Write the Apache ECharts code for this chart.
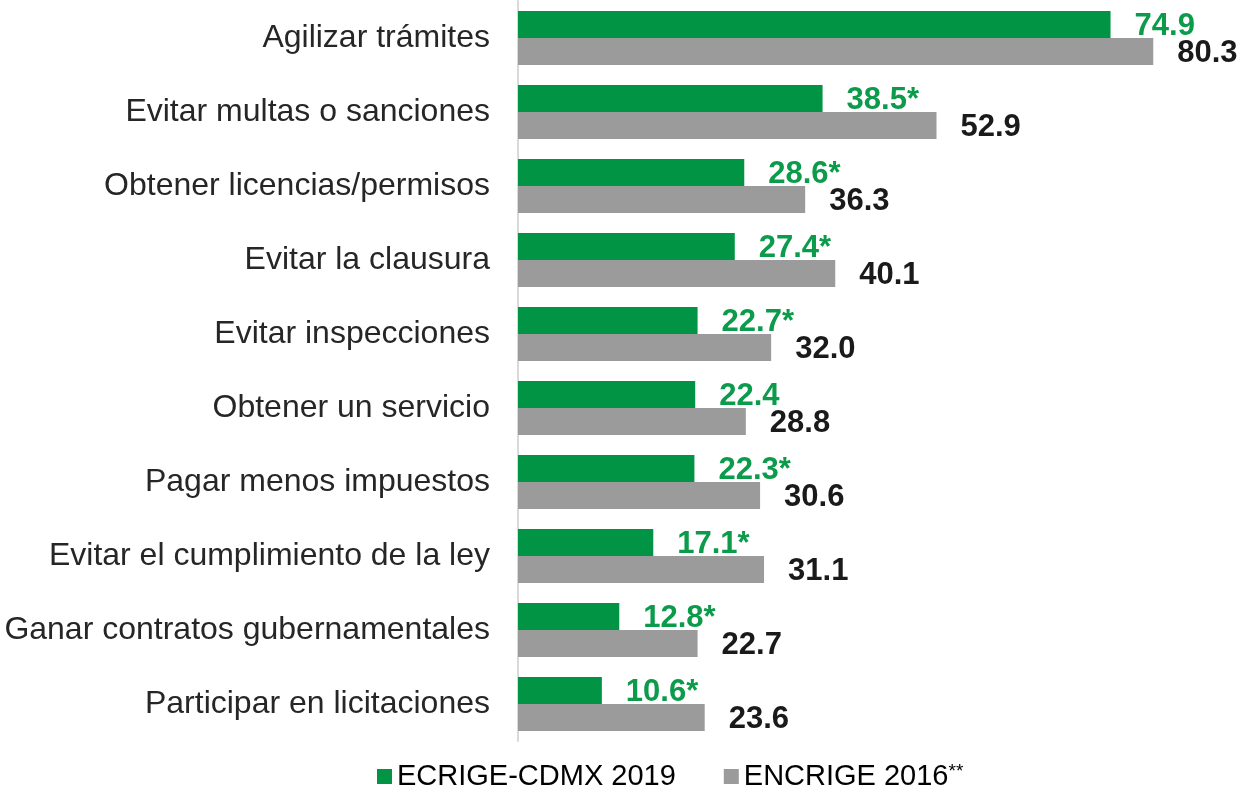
<!DOCTYPE html>
<html>
<head>
<meta charset="utf-8">
<script src="https://cdn.jsdelivr.net/npm/echarts@6/dist/echarts.min.js"></script>
<style>
  html, body { margin: 0; padding: 0; background: #ffffff; }
  #chart { width: 1238px; height: 793px; }
</style>
</head>
<body>
<div id="chart"></div>
<script>
// Categories, top to bottom
const categories = [
  'Agilizar trámites',
  'Evitar multas o sanciones',
  'Obtener licencias/permisos',
  'Evitar la clausura',
  'Evitar inspecciones',
  'Obtener un servicio',
  'Pagar menos impuestos',
  'Evitar el cumplimiento de la ley',
  'Ganar contratos gubernamentales',
  'Participar en licitaciones'
];

// Percentages per survey
const values2019 = [74.9, 38.5, 28.6, 27.4, 22.7, 22.4, 22.3, 17.1, 12.8, 10.6];
const values2016 = [80.3, 52.9, 36.3, 40.1, 32.0, 28.8, 30.6, 31.1, 22.7, 23.6];

// Statistically significant differences marked with an asterisk
const significant2019 = [false, true, true, true, true, false, true, true, true, true];

const seriesNames = ['ECRIGE-CDMX 2019', 'ENCRIGE 2016'];

const FONT = '"Liberation Sans", Arial, sans-serif';
const GREEN = '#009444';
const GRAY = '#9b9b9b';

const chart = echarts.init(document.getElementById('chart'), null, { renderer: 'canvas' });

chart.setOption({
  animation: false,
  backgroundColor: '#ffffff',
  textStyle: { fontFamily: FONT },
  grid: { left: 518, right: 8, top: 1, bottom: 52, containLabel: false },
  legend: {
    left: 377,
    top: 762,
    padding: 0,
    icon: 'rect',
    itemWidth: 15,
    itemHeight: 15,
    itemGap: 48,
    data: seriesNames,
    formatter: function (name) {
      return name === seriesNames[1] ? name + '{sup|**}' : name;
    },
    textStyle: {
      fontFamily: FONT,
      fontSize: 29,
      color: '#000000',
      rich: {
        sup: { fontFamily: FONT, fontSize: 19, color: '#000000', verticalAlign: 'top', padding: [0, 0, 10, 0] }
      }
    }
  },
  xAxis: {
    type: 'value',
    min: 0,
    max: 90,
    show: false,
    splitLine: { show: false }
  },
  yAxis: {
    type: 'category',
    inverse: true,
    data: categories,
    axisTick: { show: false },
    axisLine: { show: true, lineStyle: { color: '#d9d9d9', width: 2 } },
    axisLabel: {
      fontFamily: FONT,
      fontSize: 32,
      color: '#262626',
      margin: 28,
      padding: [6, 0, 0, 0]
    }
  },
  series: [
    {
      name: seriesNames[0],
      type: 'bar',
      data: values2019,
      barGap: '0%',
      barCategoryGap: '27%',
      itemStyle: { color: GREEN },
      label: {
        show: true,
        position: 'right',
        distance: 24,
        offset: [0, 2],
        fontFamily: FONT,
        fontSize: 31,
        fontWeight: 'bold',
        color: '#0c9b4a',
        formatter: function (p) {
          return p.value.toFixed(1) + (significant2019[p.dataIndex] ? '*' : '');
        }
      }
    },
    {
      name: seriesNames[1],
      type: 'bar',
      data: values2016,
      barGap: '0%',
      barCategoryGap: '27%',
      itemStyle: { color: GRAY },
      label: {
        show: true,
        position: 'right',
        distance: 24,
        offset: [0, 2],
        fontFamily: FONT,
        fontSize: 31,
        fontWeight: 'bold',
        color: '#1a1a1a',
        formatter: function (p) {
          return p.value.toFixed(1);
        }
      }
    }
  ]
});
</script>
</body>
</html>
